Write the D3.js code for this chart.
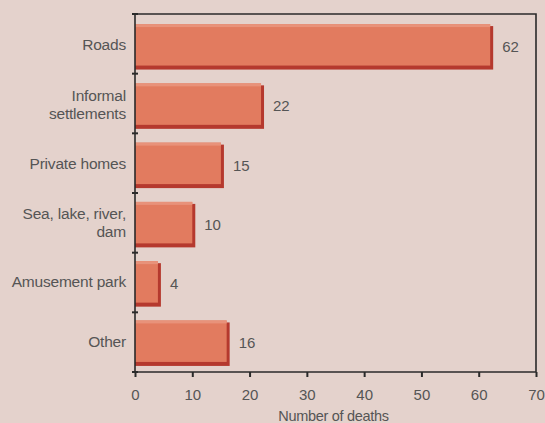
<!DOCTYPE html>
<html><head><meta charset="utf-8">
<script src="https://cdn.jsdelivr.net/npm/d3@7"></script>
<style>
html,body{margin:0;padding:0;background:#e4d2cc;}
svg{display:block;}
text{font-family:"Liberation Sans",Arial,sans-serif;fill:#555555;}
</style></head>
<body>
<svg id="c" width="545" height="423"></svg>
<script>
const categories = [["Roads"],["Informal","settlements"],["Private homes"],["Sea, lake, river,","dam"],["Amusement park"],["Other"]];
const values = [62,22,15,10,4,16];
const xTicks = [0,10,20,30,40,50,60,70];
const xTitle = "Number of deaths";

const svg = d3.select("#c");
const W=545,H=423;
svg.append("rect").attr("width",W).attr("height",H).attr("fill","#e4d2cc");
const L=135,R=536,T=14,B=372;
const x = d3.scaleLinear().domain([0,70]).range([L,R]);
const idx = d3.range(categories.length);
const y = d3.scaleBand().domain(idx).range([T,B]).paddingInner(0.3).paddingOuter(0.17);

const sh=4;
const g = svg.append("g");
idx.forEach(i=>{
  const y0=y(i), h=y.bandwidth();
  const w = x(values[i])-x(0);
  g.append("rect").attr("x",x(0)).attr("y",y0+2).attr("width",w+sh-1).attr("height",h+sh-2).attr("fill","#b5392e");
  g.append("rect").attr("x",x(0)).attr("y",y0).attr("width",w).attr("height",h).attr("fill","#e27b5f");
  g.append("rect").attr("x",x(0)).attr("y",y0).attr("width",w).attr("height",3).attr("fill","#e8927a");
  g.append("text").attr("x",x(values[i])+sh+8).attr("y",y0+h/2+2).attr("dy","0.35em")
    .attr("font-size",15).text(values[i]);
  const lines=categories[i];
  const t=g.append("text").attr("text-anchor","end").attr("font-size",15.5).attr("letter-spacing",-0.2);
  lines.forEach((ln,k)=>{
    t.append("tspan").attr("x",L-9).attr("y",y0+h/2+ (k-(lines.length-1)/2)*18).attr("dy","0.35em").text(ln);
  });
});

// frame
const ax = svg.append("g").attr("stroke","#2a2a2a").attr("stroke-width",1.6).attr("fill","none");
ax.append("path").attr("d",`M${L},${T}H${R}V${B}H${L}Z`);
// y ticks at band boundaries
const bounds = d3.range(categories.length+1).map(k=>T+k*(B-T)/categories.length);
bounds.forEach(v=>ax.append("line").attr("x1",L-3).attr("x2",L+3).attr("y1",v).attr("y2",v).attr("stroke-width",2));

// x axis
const xa = svg.append("g").attr("transform",`translate(0,${B})`)
  .call(d3.axisBottom(x).tickValues(xTicks).tickSize(5).tickPadding(12));
xa.select(".domain").remove();
xa.selectAll("line").attr("stroke","#2a2a2a").attr("stroke-width",2);
xa.selectAll("text").attr("font-size",15).attr("fill","#555555").style("font-family","Liberation Sans, Arial, sans-serif");

svg.append("text").attr("x",(L+R)/2 - 2).attr("y",421).attr("text-anchor","middle").attr("font-size",14.5).attr("letter-spacing",-0.3).text(xTitle);
</script>
</body></html>
